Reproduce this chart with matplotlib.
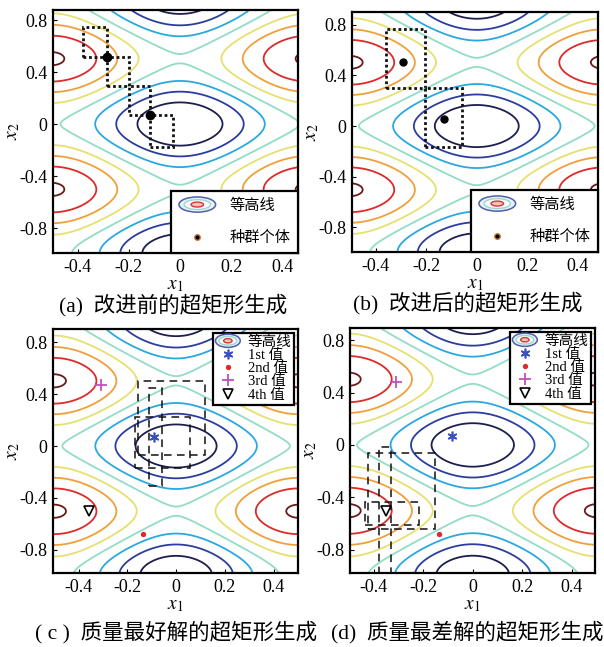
import numpy as np
import matplotlib
matplotlib.use('Agg')
import matplotlib.pyplot as plt
from matplotlib.patches import Ellipse, Rectangle
from matplotlib.legend_handler import HandlerBase
from matplotlib.lines import Line2D

plt.rcParams['font.family'] = ['Liberation Serif', 'Noto Sans CJK SC']
plt.rcParams['mathtext.fontset'] = 'stix'
plt.rcParams['axes.unicode_minus'] = False

# ---------------- data ----------------
contour_levels = [5, 10, 15, 20, 25, 30, 35, 40]
contour_colors = ['#1d1f4f', '#2b3d9e', '#2aa8e0', '#92dcc8',
                  '#e6e070', '#f0a03a', '#dd2a2a', '#6b1a1a']

x_ticks = [-0.4, -0.2, 0, 0.2, 0.4]
x_tick_labels = ['-0.4', '-0.2', '0', '0.2', '0.4']
y_ticks = [-0.8, -0.4, 0, 0.4, 0.8]
y_tick_labels = ['-0.8', '-0.4', '0', '0.4', '0.8']

# panel (a): population and hyper-rectangles (x0, x1, y0, y1)
pop_a_x = [-0.286, -0.117]
pop_a_y = [0.518, 0.069]
boxes_a = [(-0.380, -0.286, 0.518, 0.748),
           (-0.286, -0.198, 0.292, 0.518),
           (-0.198, -0.117, 0.069, 0.292),
           (-0.117, -0.029, -0.175, 0.069)]

# panel (b)
pop_b_x = [-0.291, -0.128]
pop_b_y = [0.508, 0.053]
boxes_b = [(-0.359, -0.204, 0.298, 0.763),
           (-0.204, -0.057, -0.163, 0.298)]

# panel (c): 1st..4th values
vals_c_x = [-0.089, -0.134, -0.309, -0.356]
vals_c_y = [0.072, -0.681, 0.470, -0.501]
boxes_c = [(-0.155, 0.119, -0.069, 0.501),
           (-0.111, -0.056, -0.306, 0.451),
           (-0.168, 0.057, -0.173, 0.226)]

# panel (d)
vals_d_x = [-0.085, -0.135, -0.309, -0.351]
vals_d_y = [0.069, -0.683, 0.479, -0.505]
boxes_d = [(-0.378, -0.330, -1.10, -0.013),
           (-0.424, -0.152, -0.645, -0.063),
           (-0.434, -0.217, -0.612, -0.433)]

value_labels = ['1st 值', '2nd 值', '3rd 值', '4th 值']
captions = ['(a)  改进前的超矩形生成', '(b)  改进后的超矩形生成',
            '( c )  质量最好解的超矩形生成', '(d)  质量最差解的超矩形生成']


def rastrigin(x1, x2):
    return 20 + x1 ** 2 + x2 ** 2 - 10 * (np.cos(2 * np.pi * x1) + np.cos(2 * np.pi * x2))


gx = np.linspace(-0.6, 0.6, 500)
gy = np.linspace(-1.1, 1.0, 700)
GX, GY = np.meshgrid(gx, gy)
GZ = rastrigin(GX, GY)


class ContourKey:
    pass


class ContourIconHandler(HandlerBase):
    def create_artists(self, legend, orig_handle, xdescent, ydescent,
                       width, height, fontsize, trans):
        cx = width / 2 - xdescent
        cy = height / 2 - ydescent
        specs = [(1.0, 1.3, '#4e5fae', '#e8f3f6', 1.1),
                 (0.72, 0.85, '#9fd6d0', '#f6fbfb', 1.0),
                 (0.34, 0.42, '#cf3a3a', '#f2c4b4', 1.0)]
        arts = []
        for w, h, ec, fc, lw in specs:
            arts.append(Ellipse((cx, cy), width * w, height * h, ec=ec, fc=fc,
                                lw=lw, transform=trans))
        return arts


W, H = 604, 647
fig = plt.figure(figsize=(W / 100, H / 100), dpi=100)


def add_ax(L, R, T, B):
    return fig.add_axes([L / W, 1 - B / H, (R - L) / W, (B - T) / H])


axes_px = [(53, 298, 10, 253), (352, 598, 12, 252),
           (53, 298, 329, 573), (350, 595, 328, 573)]
xlims = [(-0.496, 0.461), (-0.494, 0.480), (-0.505, 0.500), (-0.495, 0.493)]
ylims = [(-0.992, 0.877), (-0.994, 0.900), (-0.979, 0.902), (-0.979, 0.894)]

axs = []
for i, (px, xl, yl) in enumerate(zip(axes_px, xlims, ylims)):
    ax = add_ax(*px)
    ax.contour(GX, GY, GZ, levels=contour_levels, colors=contour_colors,
               linewidths=1.3)
    ax.set_xlim(*xl)
    ax.set_ylim(*yl)
    ax.set_xticks(x_ticks)
    ax.set_xticklabels(x_tick_labels)
    ax.set_yticks(y_ticks)
    ax.set_yticklabels(y_tick_labels)
    ax.tick_params(direction='in', length=3, width=0.8, labelsize=13, pad=4)
    for s in ax.spines.values():
        s.set_linewidth(1.6)
    ax.set_xlabel('$x_1$', fontsize=14, labelpad=1)
    ax.set_ylabel('$x_2$', fontsize=14, labelpad=-2)
    axs.append(ax)


def draw_boxes(ax, boxes, ls, lw):
    for x0, x1, y0, y1 in boxes:
        ax.add_patch(Rectangle((x0, y0), x1 - x0, y1 - y0, fill=False,
                               ec='#111111', ls=ls, lw=lw, zorder=3))


# (a) and (b)
dot_ls = (0, (1, 1))
for ax, bx, px_, py_, ms in [(axs[0], boxes_a, pop_a_x, pop_a_y, 6),
                             (axs[1], boxes_b, pop_b_x, pop_b_y, 5)]:
    draw_boxes(ax, bx, dot_ls, 2.0)
    ax.plot(px_, py_, 'o', color='black', ms=ms, zorder=4, ls='none')
    handles = [ContourKey(), Line2D([], [], marker='o', color='black',
                                    mec='#c87a30', ls='none', ms=4)]
    leg = ax.legend(handles, ['等高线', '种群个体'], loc='lower right',
                    handler_map={ContourKey: ContourIconHandler()},
                    fontsize=11, borderaxespad=0, fancybox=False,
                    edgecolor='black', framealpha=1, handlelength=2.4,
                    handleheight=0.8, labelspacing=1.2, borderpad=0.5,
                    handletextpad=0.9)
    leg.get_frame().set_linewidth(1.6)

# (c) and (d)
marker_styles = [dict(marker=(6, 2, 0), color='#3a4fc0', ms=7, mew=1.2),
                 dict(marker='o', color='#e02828', ms=2.8),
                 dict(marker='+', color='#c050c0', ms=9, mew=1.3),
                 dict(marker='v', mfc='none', mec='black', color='black', ms=6.5, mew=1.2)]
for ax, bx, vx, vy in [(axs[2], boxes_c, vals_c_x, vals_c_y),
                       (axs[3], boxes_d, vals_d_x, vals_d_y)]:
    draw_boxes(ax, bx, (0, (5, 3.5)), 1.1)
    handles = [ContourKey()]
    for x, y, st in zip(vx, vy, marker_styles):
        ax.plot([x], [y], ls='none', zorder=4, **st)
        handles.append(Line2D([], [], ls='none', **st))
    leg = ax.legend(handles, ['等高线'] + value_labels, loc='upper right',
                    handler_map={ContourKey: ContourIconHandler()},
                    fontsize=10.5, borderaxespad=0.25, fancybox=False,
                    edgecolor='black', framealpha=1, handlelength=1.7,
                    handleheight=0.7, labelspacing=0.0, borderpad=0.2,
                    handletextpad=0.5)
    leg.get_frame().set_linewidth(1.6)

cap_pos = [(173, 305), (468, 303), (176, 632), (467, 632)]
for (cx, cy), txt in zip(cap_pos, captions):
    fig.text(cx / W, 1 - cy / H, txt, ha='center', va='center', fontsize=15.5)

fig.savefig('out.png', dpi=100)
